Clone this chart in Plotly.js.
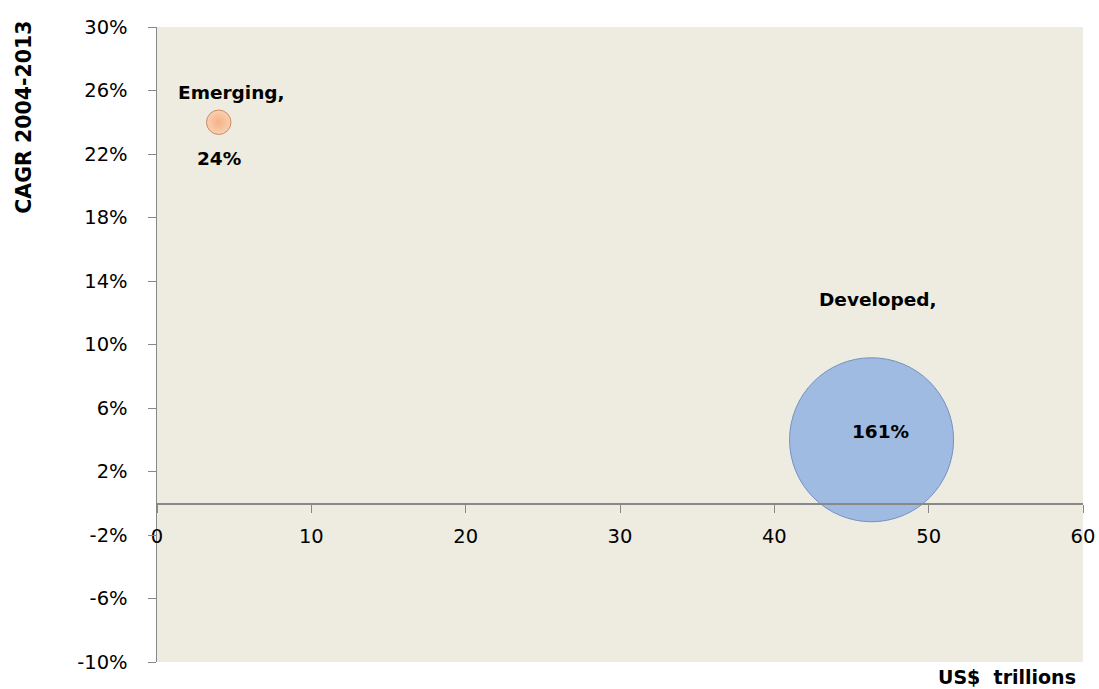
<!DOCTYPE html>
<html>
<head>
<meta charset="utf-8">
<script src="https://cdn.plot.ly/plotly-3.0.1.min.js"></script>
<style>html,body{margin:0;padding:0;background:#fff;}#chart{width:1099px;height:689px;}</style>
</head>
<body>
<div id="chart"></div>
<script>
// Data
var seriesNames = ['Emerging', 'Developed'];
var marketSize = [4, 46.3];        // US$ trillions
var cagr = [24, 4];                // CAGR 2004-2013, %
var bubbleValues = [24, 161];      // bubble size / label, %
var yTicks = [-10, -6, -2, 2, 6, 10, 14, 18, 22, 26, 30];
var xTicks = [0, 10, 20, 30, 40, 50, 60];

var fills = ['#FAD0B1', '#9FBBE1'];
var edges = ['#C98C62', '#7392C3'];

var traces = seriesNames.map(function (name, i) {
  return {
    type: 'scatter',
    mode: 'markers',
    name: name,
    x: [marketSize[i]],
    y: [cagr[i]],
    marker: {
      size: [bubbleValues[i]],
      sizemode: 'diameter',
      sizeref: 161 / 164,
      color: fills[i],
      opacity: 1,
      line: {color: edges[i], width: 1},
      gradient: i === 0 ? {type: 'radial', color: '#F4B286'} : {type: 'none'}
    },
    hoverinfo: 'skip',
    cliponaxis: false
  };
});

var labelFont = {family: 'DejaVu Sans', size: 18.5, color: '#000'};
var annotations = [];
var nameShift = [[13, 30], [6, 140]];
var valueShift = [[0, -36], [9, 8]];
seriesNames.forEach(function (name, i) {
  annotations.push({
    x: marketSize[i], y: cagr[i], xref: 'x', yref: 'y',
    text: '<b>' + name + ',</b>', showarrow: false, font: labelFont,
    xshift: nameShift[i][0], yshift: nameShift[i][1]
  });
  annotations.push({
    x: marketSize[i], y: cagr[i], xref: 'x', yref: 'y',
    text: '<b>' + bubbleValues[i] + '%</b>', showarrow: false, font: labelFont,
    xshift: valueShift[i][0], yshift: valueShift[i][1]
  });
});
annotations.push({
  xref: 'paper', yref: 'paper', x: -0.143, y: 0.858,
  xanchor: 'center', yanchor: 'middle',
  text: '<b>CAGR 2004-2013</b>', textangle: -90, showarrow: false,
  font: {family: 'DejaVu Sans', size: 20.5, color: '#000'}
});
annotations.push({
  xref: 'paper', yref: 'paper', x: 0.995, y: -0.0236, yanchor: 'middle', xanchor: 'right',
  text: '<b>US$  trillions</b>', showarrow: false,
  font: {family: 'DejaVu Sans', size: 19, color: '#000'}
});

var tickFont = {family: 'DejaVu Sans', size: 19.5, color: '#000'};
var layout = {
  width: 1099, height: 689,
  margin: {l: 157, r: 16, t: 27, b: 27},
  paper_bgcolor: '#ffffff',
  plot_bgcolor: '#EEEBE1',
  showlegend: false,
  font: {family: 'DejaVu Sans', size: 19, color: '#000'},
  xaxis: {
    range: [0, 60],
    tickvals: xTicks,
    ticktext: xTicks.map(String),
    anchor: 'free',
    position: 0.25,
    showgrid: false,
    zeroline: false,
    showline: true,
    linecolor: '#888888',
    linewidth: 1.5,
    ticks: 'outside',
    ticklen: 8,
    tickcolor: '#888888',
    ticklabelstandoff: 7,
    tickfont: tickFont,
    fixedrange: true
  },
  yaxis: {
    range: [-10, 30],
    tickvals: yTicks,
    ticktext: yTicks.map(function (v) { return v + '%'; }),
    showgrid: false,
    zeroline: false,
    showline: true,
    linecolor: '#888888',
    linewidth: 1.5,
    ticks: 'outside',
    ticklen: 8,
    tickcolor: '#888888',
    ticklabelstandoff: 16,
    tickfont: tickFont,
    fixedrange: true
  },
  annotations: annotations
};

Plotly.newPlot('chart', traces, layout, {displayModeBar: false, staticPlot: true});
</script>
</body>
</html>
